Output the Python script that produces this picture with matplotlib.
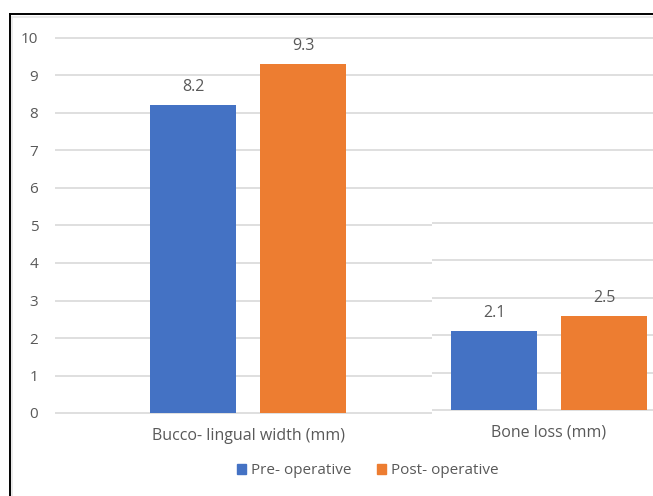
import matplotlib
matplotlib.use("Agg")
import matplotlib.pyplot as plt
from matplotlib.lines import Line2D
from matplotlib.patches import Patch
import numpy as np

categories = ["Bucco- lingual width (mm)", "Bone loss (mm)"]
series = ["Pre- operative", "Post- operative"]
pre_op = [8.2, 2.1]
post_op = [9.3, 2.5]
yticks = [0, 1, 2, 3, 4, 5, 6, 7, 8, 9, 10]

colors = ["#4472C4", "#ED7D31"]
grid_col = "#D9D9D9"
text_col = "#595959"

plt.rcParams["font.family"] = ["Open Sans", "DejaVu Sans"]

W, H = 653, 496
fig = plt.figure(figsize=(W / 100, H / 100), dpi=100)


def px_rect(x0, x1, ytop, ybot):
    # pixel box (from top-left) -> figure fraction rect
    return [x0 / W, (H - ybot) / H, (x1 - x0) / W, (ybot - ytop) / H]


def draw(ax, idx):
    # draw the bar groups listed in idx
    w = 0.2857
    off = 0.1827
    for vals, c, s in [(pre_op, colors[0], -off), (post_op, colors[1], off)]:
        for i in idx:
            ax.bar(i + s, vals[i], width=w, color=c, zorder=3)
            ax.annotate(f"{vals[i]}", xy=(i + s, vals[i]),
                        xytext=(0, 13), textcoords="offset points",
                        ha="center", va="center", fontsize=11.5, color=text_col)
    for i in idx:
        ax.annotate(categories[i], xy=(i, 0), xytext=(0, -16.5),
                    textcoords="offset points", ha="center", va="center",
                    fontsize=11.5, color=text_col, annotation_clip=False)
    ax.set_yticks(yticks)
    ax.yaxis.grid(True, color=grid_col, lw=1.2, zorder=0)
    ax.set_xticks([])
    for sp in ax.spines.values():
        sp.set_visible(False)
    ax.tick_params(length=0)


unit = 37.5   # pixels per y unit
xscale = 301  # pixels per category

# main axes: value 0 at y=413, 10 at y=38
ax = fig.add_axes(px_rect(55, 653, 38 - 0.1 * unit, 413 + 0.1 * unit))
draw(ax, [0])
ax.set_ylim(-0.1, 10.1)
ax.set_xlim(-(248 - 55) / xscale, 1 + (653 - 549) / xscale)
ax.tick_params(axis="y", pad=12, labelsize=11, labelcolor=text_col)

# right-hand block sits a few pixels higher
ax2 = fig.add_axes(px_rect(432, 653, 219, 450), zorder=5)
ax2.set_facecolor("white")
draw(ax2, [1])
ax2.set_ylim((410 - 450) / unit, (410 - 219) / unit)
ax2.set_xlim(1 - (549 - 432) / xscale, 1 + (653 - 549) / xscale)
ax2.set_yticklabels([])

handles = [Patch(color=c, label=s) for c, s in zip(colors, series)]
leg = fig.legend(handles=handles, loc="center", bbox_to_anchor=(368 / W, 1 - 471 / H),
                 ncol=2, frameon=False, fontsize=11, handlelength=0.55,
                 handleheight=0.55, handletextpad=0.35, columnspacing=1.7)
for t in leg.get_texts():
    t.set_color(text_col)

# frame around the chart
fig.add_artist(Line2D([9.5 / W, 9.5 / W], [0, 1 - 13.5 / H], color="black", lw=1.4))
fig.add_artist(Line2D([9.5 / W, 1], [1 - 13.5 / H] * 2, color="black", lw=1.4))
fig.add_artist(Line2D([11.5 / W, 11.5 / W], [0, 1 - 16.5 / H], color="#E6E6E6", lw=1.2))
fig.add_artist(Line2D([11.5 / W, 1], [1 - 16.5 / H] * 2, color="#E6E6E6", lw=1.2))

fig.savefig("out.png", dpi=100)
